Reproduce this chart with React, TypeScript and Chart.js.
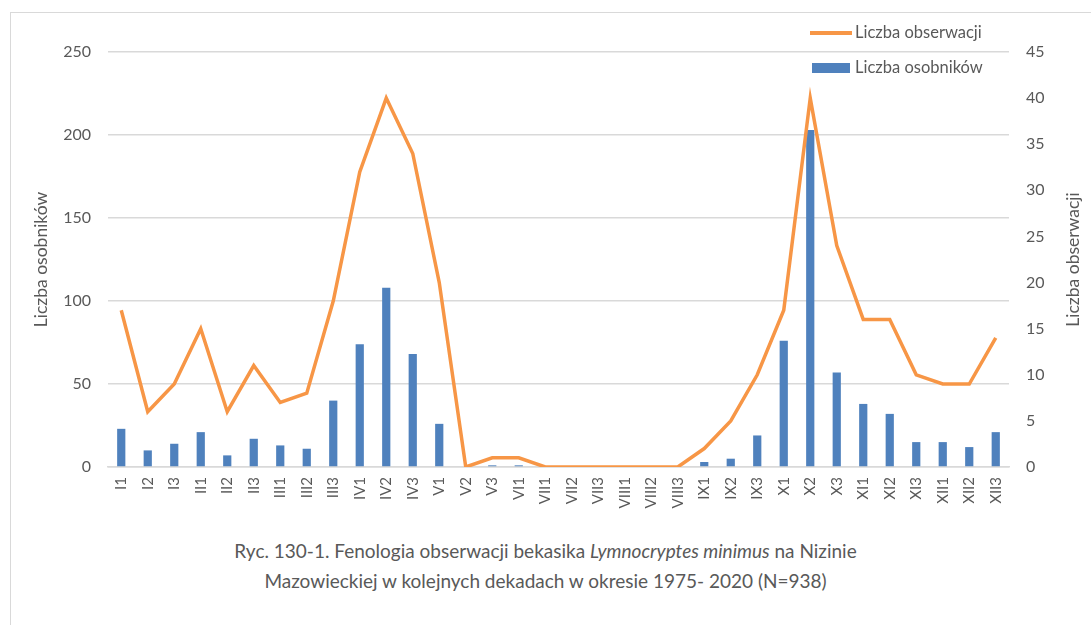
import React, { useEffect, useRef } from "react";
import { Chart, registerables } from "chart.js";

Chart.register(...registerables);

const categories = [
  "I1", "I2", "I3", "II1", "II2", "II3", "III1", "III2", "III3",
  "IV1", "IV2", "IV3", "V1", "V2", "V3", "VI1", "VII1", "VII2", "VII3",
  "VIII1", "VIII2", "VIII3", "IX1", "IX2", "IX3", "X1", "X2", "X3",
  "XI1", "XI2", "XI3", "XII1", "XII2", "XII3",
];

const individuals = [
  23, 10, 14, 21, 7, 17, 13, 11, 40,
  74, 108, 68, 26, 0, 1, 1, 0, 0, 0,
  0, 0, 0, 3, 5, 19, 76, 203, 57,
  38, 32, 15, 15, 12, 21,
];

const observations = [
  17, 6, 9, 15, 6, 11, 7, 8, 18,
  32, 40, 34, 20, 0, 1, 1, 0, 0, 0,
  0, 0, 0, 2, 5, 10, 17, 40, 24,
  16, 16, 10, 9, 9, 14,
];

const leftTicks = [0, 50, 100, 150, 200, 250];
const rightTicks = [0, 5, 10, 15, 20, 25, 30, 35, 40, 45];

const labelObs = "Liczba obserwacji";
const labelInd = "Liczba osobników";
const captionA = "Ryc. 130-1. Fenologia obserwacji bekasika ";
const captionItalic = "Lymnocryptes minimus";
const captionB = " na Nizinie";
const captionLine2 = "Mazowieckiej w kolejnych dekadach w okresie 1975- 2020 (N=938)";

const FONT = "Lato, 'Open Sans', sans-serif";
const TEXT = "#595959";
const ORANGE = "#F79646";
const BLUE = "#4F81BD";
const GRID = "#D9D9D9";

const W = 1091;
const H = 530;
const X_AXIS_H = 63;

const overlayPlugin = {
  id: "overlay",
  afterDraw(chart: any) {
    const ctx = chart.ctx;
    const area = chart.chartArea;
    const cy = (area.top + area.bottom) / 2;
    ctx.save();
    ctx.fillStyle = TEXT;
    ctx.font = `17.5px ${FONT}`;
    ctx.textAlign = "center";
    ctx.textBaseline = "middle";
    // left axis title
    ctx.save();
    ctx.translate(41, cy);
    ctx.rotate(-Math.PI / 2);
    ctx.fillText(chart.data.datasets[1].label, 0, 0);
    ctx.restore();
    // right axis title
    ctx.save();
    ctx.translate(1073, cy);
    ctx.rotate(-Math.PI / 2);
    ctx.fillText(chart.data.datasets[0].label, 0, 0);
    ctx.restore();

    // legend
    ctx.textAlign = "left";
    ctx.font = `16.5px ${FONT}`;
    ctx.strokeStyle = ORANGE;
    ctx.lineWidth = 4;
    ctx.beginPath();
    ctx.moveTo(810, 33);
    ctx.lineTo(852, 33);
    ctx.stroke();
    ctx.fillStyle = TEXT;
    ctx.fillText(chart.data.datasets[0].label, 855, 33);
    ctx.fillStyle = BLUE;
    ctx.fillRect(812, 63, 38, 10);
    ctx.fillStyle = TEXT;
    ctx.fillText(chart.data.datasets[1].label, 855, 68);
    ctx.restore();
  },
};

export default function App() {
  const canvasRef = useRef<HTMLCanvasElement | null>(null);

  useEffect(() => {
    if (!canvasRef.current) return;
    const chart = new Chart(canvasRef.current, {
      type: "bar",
      data: {
        labels: categories,
        datasets: [
          {
            type: "line",
            label: labelObs,
            data: observations,
            yAxisID: "y1",
            borderColor: ORANGE,
            backgroundColor: ORANGE,
            borderWidth: 3.5,
            pointRadius: 0,
            tension: 0,
            order: 0,
          } as any,
          {
            type: "bar",
            label: labelInd,
            data: individuals,
            yAxisID: "y",
            backgroundColor: BLUE,
            categoryPercentage: 1,
            barPercentage: 0.31,
            order: 1,
          },
        ],
      },
      options: {
        animation: false,
        responsive: true,
        maintainAspectRatio: false,
        layout: { padding: { top: 52, left: 0, right: 0, bottom: 0 } },
        plugins: {
          legend: { display: false },
          tooltip: { enabled: false },
        },
        scales: {
          x: {
            offset: true,
            grid: { display: false, drawTicks: false },
            border: { display: true, color: GRID, width: 1.5 },
            ticks: {
              color: TEXT,
              font: { family: FONT, size: 15 },
              minRotation: 90,
              maxRotation: 90,
              autoSkip: false,
              padding: 10,
            },
            afterFit(scale: any) {
              scale.height = X_AXIS_H;
            },
          },
          y: {
            position: "left",
            min: 0,
            max: 250,
            afterBuildTicks(scale: any) {
              scale.ticks = leftTicks.map((v) => ({ value: v }));
            },
            grid: { color: GRID, lineWidth: 1.5, drawTicks: false },
            border: { display: false },
            ticks: {
              color: TEXT,
              font: { family: FONT, size: 16 },
              padding: 17,
            },
            afterFit(scale: any) {
              scale.width = 108;
            },
          },
          y1: {
            position: "right",
            min: 0,
            max: 45,
            afterBuildTicks(scale: any) {
              scale.ticks = rightTicks.map((v) => ({ value: v }));
            },
            grid: { display: false, drawTicks: false },
            border: { display: false },
            ticks: {
              color: TEXT,
              font: { family: FONT, size: 16 },
              padding: 17,
            },
            afterFit(scale: any) {
              scale.width = 82;
            },
          },
        },
      },
      plugins: [overlayPlugin],
    });
    return () => chart.destroy();
  }, []);

  return (
    <div
      style={{
        position: "fixed",
        left: 0,
        top: 0,
        width: W,
        height: 625,
        overflow: "hidden",
        background: "#fff",
        fontFamily: FONT,
      }}
    >
      <div
        style={{
          position: "absolute",
          left: 10,
          top: 12,
          width: 1200,
          height: 800,
          border: `1.5px solid ${GRID}`,
        }}
      />
      <div style={{ position: "absolute", left: 0, top: 0, width: W, height: H }}>
        <canvas ref={canvasRef} />
      </div>
      <div
        style={{
          position: "absolute",
          left: 0,
          top: 536,
          width: W,
          textAlign: "center",
          color: TEXT,
          fontSize: 19,
          lineHeight: "30px",
        }}
      >
        <div>
          {captionA}
          <i>{captionItalic}</i>
          {captionB}
        </div>
        <div>{captionLine2}</div>
      </div>
    </div>
  );
}
